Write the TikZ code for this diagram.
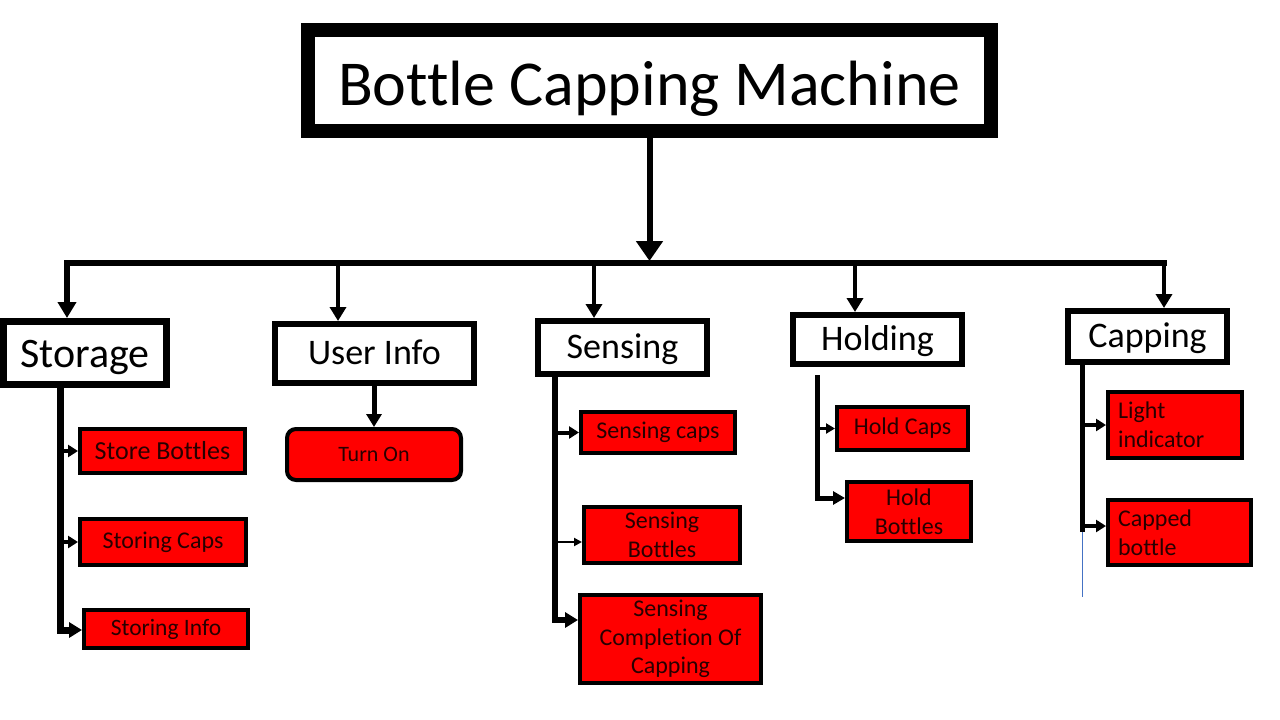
\documentclass[tikz,border=0pt]{standalone}
\usepackage{fontspec}
\setmainfont{Carlito}[Ligatures={NoCommon}]
\usetikzlibrary{arrows.meta}
\definecolor{boxred}{RGB}{255,0,0}
\definecolor{txtdark}{RGB}{40,0,0}
\definecolor{thinblue}{RGB}{68,114,196}
\tikzset{
  topbox/.style={draw=black, fill=white, inner sep=0pt, line width=6pt, text height=24pt, text depth=2pt, font=\fontsize{36}{40}\selectfont},
  redbox/.style={draw=black, fill=boxred, line width=4pt, inner sep=0pt, text=txtdark, font=\fontsize{24}{28.5}\selectfont, align=center},
  busline/.style={line width=6pt, line cap=rect},
  droparrow/.style={line width=5pt, -{Triangle[width=16pt,length=14pt]}},
  trunkline/.style={line width=6pt, -{Triangle[width=15pt,length=13pt]}},
  smallarrow/.style={line width=4pt, -{Triangle[width=12pt,length=10pt]}}
}
\begin{document}
\begin{tikzpicture}[x=1pt,y=-1pt]
\useasboundingbox (0,0) rectangle (1280,720);

% title
\node[topbox, line width=14pt, minimum width=683pt, minimum height=101pt, text height=49pt, text depth=0pt, font=\fontsize{64}{70}\selectfont] (title) at (649.5,80.5) {Bottle Capping Machine};

% second level
\node[topbox, line width=7pt, minimum width=163pt, minimum height=63pt, text height=28pt, text depth=0pt, font=\fontsize{42}{46}\selectfont] (storage) at (85,353) {Storage};
\node[topbox, minimum width=199pt, minimum height=59pt] (userinfo) at (374.5,353.5) {User Info};
\node[topbox, minimum width=169pt, minimum height=53pt] (sensing) at (622.5,347.5) {Sensing};
\node[topbox, minimum width=169pt, minimum height=49pt] (holding) at (877.5,339.5) {Holding};
\node[topbox, minimum width=159pt, minimum height=51pt] (capping) at (1147.5,336.5) {Capping};

% storage children
\node[redbox, minimum width=165pt, minimum height=44pt, font=\fontsize{26}{30}\selectfont] (sbot) at (162.5,451) {Store Bottles};
\node[redbox, minimum width=166pt, minimum height=46pt] (scaps) at (163,542) {Storing Caps};
\node[redbox, minimum width=164pt, minimum height=38pt, font=\fontsize{23.5}{28}\selectfont] (sinfo) at (166,629) {Storing Info};

% user info child
\node[redbox, rounded corners=9pt, minimum width=174pt, minimum height=51pt, font=\fontsize{22}{26}\selectfont] (turnon) at (374,454.5) {Turn On};

% sensing children
\node[redbox, minimum width=154pt, minimum height=41pt] (secaps) at (658,432.5) {Sensing caps};
\node[redbox, minimum width=156pt, minimum height=56pt] (sebott) at (662,535) {Sensing\\Bottles};
\node[redbox, minimum width=181pt, minimum height=88pt] (secomp) at (670.5,639) {Sensing\\Completion Of\\Capping};

% holding children
\node[redbox, minimum width=131pt, minimum height=43pt] (hcaps) at (902.5,428.5) {Hold Caps};
\node[redbox, minimum width=124pt, minimum height=59pt] (hbott) at (909,511.5) {Hold\\Bottles};

% capping children
\node[redbox, align=left, text width=114pt, inner xsep=10pt, minimum height=66pt] (light) at (1175,425) {Light\\indicator};
\node[redbox, align=left, text width=123pt, inner xsep=10pt, minimum height=65pt] (capped) at (1179.5,532.5) {Capped\\bottle};

% bus
\coordinate (bS) at (67,263);
\coordinate (bU) at (338,263);
\coordinate (bSe) at (594,263);
\coordinate (bH) at (855,263);
\coordinate (bC) at (1164,263);
\draw[busline] (bS) -- (bC);
\draw[line width=6pt, -{Triangle[width=26pt,length=20pt]}, shorten >=2pt] (title.south) -- (title.south |- bS);

% drops
\draw[droparrow, line width=6pt, -{Triangle[width=18pt,length=16pt]}] (bS) -- (bS |- storage.north);
\draw[droparrow, line width=4pt] (bU) -- (bU |- userinfo.north);
\draw[droparrow, line width=3.5pt] (bSe) -- (bSe |- sensing.north);
\draw[droparrow, line width=3.5pt] (bH) -- (bH |- holding.north);
\draw[droparrow, line width=3.5pt] (bC) -- (bC |- capping.north);

% storage trunk
\coordinate (sT) at (60,630);
\draw[trunkline, line width=7pt, line join=miter] (sT |- storage.south) -- (sT) -- (sT -| sinfo.west);
\draw[smallarrow] (sT |- sbot.west) -- (sbot.west);
\draw[smallarrow] (sT |- scaps.west) -- (scaps.west);

% user info
\draw[trunkline, line width=5pt] (turnon.north |- userinfo.south) -- (turnon.north);

% sensing trunk
\coordinate (seT) at (555,620);
\coordinate (seB) at (555,542);
\draw[trunkline, line width=6pt] (seT |- sensing.south) -- (seT) -- (seT -| secomp.west);
\draw[smallarrow] (seT |- secaps.west) -- (secaps.west);
\draw[line width=2pt, -{Triangle[width=8pt,length=8pt]}] (seB) -- (seB -| sebott.west);

% holding trunk
\coordinate (hT0) at (817,375);
\coordinate (hT) at (817,498);
\draw[trunkline, line width=5pt, -{Triangle[width=13pt,length=12pt]}] (hT0) -- (hT) -- (hT -| hbott.west);
\draw[line width=3pt, -{Triangle[width=10pt,length=9pt]}] (hT |- hcaps.west) -- (hcaps.west);

% capping trunk
\coordinate (cT) at (1082,532);
\coordinate (cA) at (1082,526);
\coordinate (cB) at (1082,597);
\draw[line width=5pt] (cT |- capping.south) -- (cT);
\draw[thinblue, line width=1pt] (cT) -- (cB);
\draw[smallarrow] (cT |- light.west) -- (light.west);
\draw[smallarrow] (cA) -- (cA -| capped.west);
\end{tikzpicture}
\end{document}
